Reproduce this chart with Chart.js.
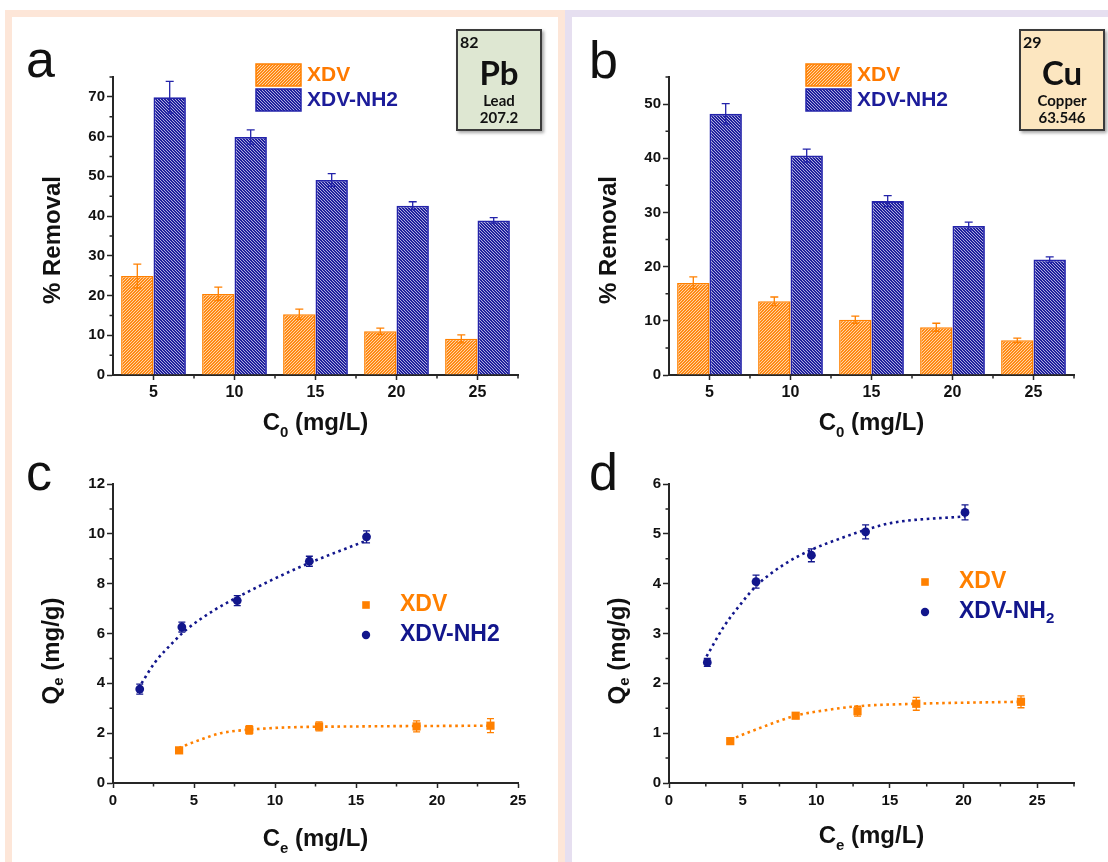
<!DOCTYPE html>
<html>
<head>
<meta charset="utf-8">
<script src="https://cdn.jsdelivr.net/npm/chart.js@4.4.1/dist/chart.umd.min.js"></script>
<style>
  html, body { margin: 0; padding: 0; background: #fff; }
  #page { position: relative; width: 1108px; height: 862px; overflow: hidden; background: #fff; }
  .frame { position: absolute; top: 10px; height: 900px; box-sizing: border-box; border: 7px solid; background: #fff; }
  #frameL { left: 5px; width: 560px; border-color: #fde6d8; }
  #frameR { left: 565px; width: 600px; border-color: #e6dff0; }
  canvas { position: absolute; }
  .elem { position: absolute; width: 86px; height: 102px; box-sizing: border-box; border: 2px solid #3b3b3b;
          box-shadow: 2px 2px 3px rgba(0,0,0,0.35); font-family: Lato, "Open Sans", sans-serif; font-weight: bold; color: #111; }
  .elem span { position: absolute; white-space: nowrap; }
  .elem .num { left: 2px; top: 3px; font-size: 16px; line-height: 16px; }
  .elem .sym { left: 0; right: 0; text-align: center; top: 25px; font-size: 33px; line-height: 33px; }
  .elem .name { left: 0; right: 0; text-align: center; top: 62px; font-size: 15px; line-height: 15px; }
  .elem .mass { left: 0; right: 0; text-align: center; top: 79px; font-size: 15px; line-height: 15px; }
</style>
</head>
<body>
<div id="page">
  <div class="frame" id="frameL"></div>
  <div class="frame" id="frameR"></div>
  <canvas id="chartA" width="546" height="423" style="left:12px;top:17px"></canvas>
  <canvas id="chartB" width="536" height="423" style="left:572px;top:17px"></canvas>
  <canvas id="chartC" width="546" height="422" style="left:12px;top:440px"></canvas>
  <canvas id="chartD" width="536" height="422" style="left:572px;top:440px"></canvas>
  <div class="elem" style="left:456px;top:29px;background:#dee7d2">
    <span class="num">82</span><span class="sym">Pb</span><span class="name">Lead</span><span class="mass">207.2</span>
  </div>
  <div class="elem" style="left:1019px;top:29px;background:#fce6c0">
    <span class="num">29</span><span class="sym">Cu</span><span class="name">Copper</span><span class="mass">63.546</span>
  </div>
</div>
<script>
// series names and axis labels
const seriesNames = ['XDV', 'XDV-NH2'];
const seriesNamesSub = ['XDV', 'XDV-NH_2'];
const c0Labels = ['5', '10', '15', '20', '25'];

// (a) Pb removal (%)
const pbXdv = [24.9, 20.4, 15.3, 11.0, 9.1];
const pbXdvErr = [3.0, 1.7, 1.3, 0.8, 1.0];
const pbNh2 = [69.9, 59.9, 49.1, 42.6, 38.9];
const pbNh2Err = [4.0, 1.8, 1.6, 1.0, 0.7];

// (b) Cu removal (%)
const cuXdv = [17.0, 13.6, 10.2, 8.8, 6.4];
const cuXdvErr = [1.1, 0.8, 0.65, 0.75, 0.4];
const cuNh2 = [48.2, 40.5, 32.1, 27.5, 21.3];
const cuNh2Err = [1.9, 1.2, 1.0, 0.7, 0.5];

// (c) Pb isotherm, Ce (mg/L) vs Qe (mg/g)
const pbCeXdv = [4.08, 8.41, 12.72, 18.74, 23.3];
const pbQeXdv = [1.31, 2.13, 2.27, 2.27, 2.3];
const pbQeXdvErr = [0.08, 0.17, 0.18, 0.22, 0.28];
const pbCeNh2 = [1.65, 4.25, 7.67, 12.12, 15.65];
const pbQeNh2 = [3.77, 6.26, 7.32, 8.9, 9.88];
const pbQeNh2Err = [0.2, 0.2, 0.2, 0.2, 0.24];
const pbFitXdvX = [4.08, 5.4, 6.72, 8.41, 10.69, 15.1, 23.3];
const pbFitXdvY = [1.41, 1.74, 2.01, 2.14, 2.23, 2.27, 2.3];
const pbFitNh2X = [1.76, 2.6, 3.64, 4.52, 6.28, 7.67, 9.81, 12.12, 15.54];
const pbFitNh2Y = [4.0, 4.85, 5.6, 6.15, 6.95, 7.45, 8.15, 8.83, 9.7];

// (d) Cu isotherm
const cuCeXdv = [4.16, 8.6, 12.8, 16.79, 23.9];
const cuQeXdv = [0.84, 1.35, 1.44, 1.59, 1.63];
const cuQeXdvErr = [0.04, 0.05, 0.1, 0.13, 0.12];
const cuCeNh2 = [2.6, 5.91, 9.67, 13.35, 20.1];
const cuQeNh2 = [2.42, 4.04, 4.57, 5.04, 5.43];
const cuQeNh2Err = [0.08, 0.13, 0.13, 0.14, 0.15];
const cuFitXdvX = [4.16, 5.87, 8.6, 10.62, 12.8, 16.79, 23.9];
const cuFitXdvY = [0.87, 1.07, 1.35, 1.46, 1.54, 1.59, 1.63];
const cuFitNh2X = [2.55, 3.73, 4.92, 5.91, 7.78, 9.67, 11.57, 13.35, 15.13, 20.1];
const cuFitNh2Y = [2.54, 3.14, 3.61, 3.95, 4.38, 4.68, 4.9, 5.08, 5.22, 5.35];

const FONT = '"Liberation Sans", Arial, Helvetica, sans-serif';
const ORANGE = '#ff8000';
const NAVY = '#12168c';
const BAR_ORANGE = '#ff8a14';
const BAR_BLUE = '#1f1f9e';
const BAR_BLUE_LINE = '#2323aa';
const AXIS = '#262626';

Chart.defaults.font.family = FONT;
Chart.defaults.font.weight = 'bold';
Chart.defaults.color = '#111';

function hatch(color, back) {
  const s = 3;
  const c = document.createElement('canvas');
  c.width = s; c.height = s;
  const g = c.getContext('2d');
  g.fillStyle = color;
  g.fillRect(0, 0, s, s);
  g.strokeStyle = 'rgba(255,255,255,0.8)';
  g.lineWidth = 0.8;
  g.beginPath();
  if (!back) {
    g.moveTo(-1, s + 1); g.lineTo(s + 1, -1);
    g.moveTo(-1, 1); g.lineTo(1, -1);
    g.moveTo(s - 1, s + 1); g.lineTo(s + 1, s - 1);
  } else {
    g.moveTo(-1, -1); g.lineTo(s + 1, s + 1);
    g.moveTo(s - 1, -1); g.lineTo(s + 1, 1);
    g.moveTo(-1, s - 1); g.lineTo(1, s + 1);
  }
  g.stroke();
  return g.createPattern(c, 'repeat');
}

// text with "_x" subscripts
function drawRich(ctx, text, x, y, size, color, align) {
  const bits = text.split('_');
  const parts = [{ t: bits[0], sub: false }];
  for (let i = 1; i < bits.length; i++) {
    parts.push({ t: bits[i][0], sub: true });
    if (bits[i].length > 1) parts.push({ t: bits[i].slice(1), sub: false });
  }
  const subSize = Math.round(size * 0.64);
  let w = 0;
  parts.forEach(p => {
    ctx.font = 'bold ' + (p.sub ? subSize : size) + 'px ' + FONT;
    p.w = ctx.measureText(p.t).width;
    w += p.w;
  });
  let cx = align === 'center' ? x - w / 2 : x;
  ctx.fillStyle = color;
  ctx.textAlign = 'left';
  parts.forEach(p => {
    ctx.font = 'bold ' + (p.sub ? subSize : size) + 'px ' + FONT;
    ctx.fillText(p.t, cx, p.sub ? y + size * 0.3 : y);
    cx += p.w;
  });
}

const minorTicks = {
  id: 'minorTicks',
  afterDraw(chart, args, o) {
    const ctx = chart.ctx, xs = chart.scales.x, ys = chart.scales.y;
    ctx.save();
    ctx.strokeStyle = AXIS;
    ctx.lineWidth = 1.5;
    ctx.beginPath();
    if (o.x === 'category') {
      for (let i = 1; i <= xs.ticks.length; i++) {
        const px = xs.getPixelForValue(i - 0.5);
        ctx.moveTo(px, xs.top); ctx.lineTo(px, xs.top + 3.5);
      }
    } else {
      for (let v = xs.min + o.x / 2; v <= xs.max + 1e-9; v += o.x) {
        const px = xs.getPixelForValue(v);
        ctx.moveTo(px, xs.top); ctx.lineTo(px, xs.top + 3.5);
      }
    }
    for (let v = ys.min + o.y / 2; v <= ys.max + 1e-9; v += o.y) {
      const py = ys.getPixelForValue(v);
      ctx.moveTo(ys.right, py); ctx.lineTo(ys.right - 3.5, py);
    }
    ctx.stroke();
    ctx.restore();
  }
};

const errorBars = {
  id: 'errorBars',
  afterDatasetsDraw(chart, args, o) {
    const ctx = chart.ctx, ys = chart.scales.y;
    chart.data.datasets.forEach((ds, di) => {
      if (!ds.errors) return;
      const meta = chart.getDatasetMeta(di);
      ctx.save();
      ctx.strokeStyle = ds.errorColor;
      ctx.lineWidth = 1.3;
      meta.data.forEach((el, i) => {
        const d = ds.data[i];
        const val = typeof d === 'object' ? d.y : d;
        const top = ys.getPixelForValue(val + ds.errors[i]);
        const bot = ys.getPixelForValue(val - ds.errors[i]);
        const c = o.cap;
        ctx.beginPath();
        ctx.moveTo(el.x, top); ctx.lineTo(el.x, bot);
        ctx.moveTo(el.x - c, top); ctx.lineTo(el.x + c, top);
        ctx.moveTo(el.x - c, bot); ctx.lineTo(el.x + c, bot);
        ctx.stroke();
      });
      ctx.restore();
    });
  }
};

// panel letter, axis titles and in-plot legend
const deco = {
  id: 'deco',
  afterDraw(chart, args, o) {
    const ctx = chart.ctx, area = chart.chartArea;
    ctx.save();
    ctx.fillStyle = '#111';
    ctx.font = 'normal 52px ' + FONT;
    ctx.textBaseline = 'alphabetic';
    ctx.textAlign = 'left';
    ctx.fillText(o.tag.text, o.tag.x, o.tag.y);

    drawRich(ctx, o.xTitle.text, (area.left + area.right) / 2, o.xTitle.y, 24, '#111', 'center');

    ctx.save();
    ctx.translate(o.yTitle.x, o.yTitle.y);
    ctx.rotate(-Math.PI / 2);
    ctx.textBaseline = 'middle';
    drawRich(ctx, o.yTitle.text, 0, 0, 24, '#111', 'center');
    ctx.restore();

    const lg = o.legend;
    ctx.textBaseline = 'middle';
    lg.items.forEach((it, k) => {
      const ds = chart.data.datasets[it.dataset];
      const y = lg.y + k * lg.gap;
      if (lg.kind === 'swatch') {
        ctx.fillStyle = ds.backgroundColor;
        ctx.fillRect(lg.x, y - lg.h / 2, lg.w, lg.h);
        ctx.strokeStyle = ds.borderColor;
        ctx.lineWidth = 1.5;
        ctx.strokeRect(lg.x, y - lg.h / 2, lg.w, lg.h);
      } else {
        ctx.fillStyle = ds.pointBackgroundColor;
        ctx.beginPath();
        if (ds.pointStyle === 'rect') {
          ctx.rect(lg.x - 3.8, y - 3.8, 7.6, 7.6);
        } else {
          ctx.arc(lg.x, y, 4.2, 0, Math.PI * 2);
        }
        ctx.fill();
      }
      drawRich(ctx, it.text, lg.textX, y, lg.size, it.color, 'left');
    });
    ctx.restore();
  }
};

function axisStyle(size) {
  return {
    grid: { display: true, drawOnChartArea: false, tickLength: 6, tickColor: AXIS, tickWidth: 1.5 },
    border: { display: true, color: AXIS, width: 2 },
    ticks: { font: { size: size, weight: 'bold' }, color: '#111', padding: 2 }
  };
}

function makeBars(id, xdv, xdvErr, nh2, nh2Err, yMax, look) {
  const xAxis = axisStyle(16);
  xAxis.type = 'category';
  xAxis.offset = true;
  xAxis.grid.offset = false;
  xAxis.grid.tickLength = 5;
  xAxis.ticks.padding = 3;
  xAxis.ticks.maxRotation = 0;
  xAxis.afterFit = s => { s.height = 65; };
  const yAxis = axisStyle(15);
  yAxis.min = 0;
  yAxis.max = yMax;
  yAxis.ticks.stepSize = 10;
  yAxis.ticks.includeBounds = false;
  yAxis.afterFit = s => { s.width = look.yWidth; };

  return new Chart(document.getElementById(id), {
    type: 'bar',
    data: {
      labels: c0Labels,
      datasets: [{
        label: seriesNames[0], data: xdv, errors: xdvErr, errorColor: ORANGE,
        backgroundColor: hatch(BAR_ORANGE, false), borderColor: ORANGE, borderWidth: 1.5,
        categoryPercentage: 0.8, barPercentage: 1
      }, {
        label: seriesNames[1], data: nh2, errors: nh2Err, errorColor: BAR_BLUE_LINE,
        backgroundColor: hatch(BAR_BLUE, true), borderColor: BAR_BLUE_LINE, borderWidth: 1.8,
        categoryPercentage: 0.8, barPercentage: 1
      }]
    },
    options: {
      responsive: false,
      animation: false,
      layout: { padding: { top: 60, right: look.padRight, left: 0, bottom: 0 } },
      scales: { x: xAxis, y: yAxis },
      plugins: {
        legend: { display: false },
        tooltip: { enabled: false },
        minorTicks: { x: 'category', y: 10 },
        errorBars: { cap: 4 },
        deco: {
          tag: look.tag,
          xTitle: { text: 'C_0 (mg/L)', y: 413 },
          yTitle: { text: '% Removal', x: look.yTitleX, y: 223 },
          legend: {
            kind: 'swatch', x: look.legendX, y: 58, gap: 25, w: 45, h: 22,
            textX: look.legendX + 51, size: 21,
            items: [{ dataset: 0, text: seriesNames[0], color: '#ff7a00' },
                    { dataset: 1, text: seriesNames[1], color: '#1c1c9a' }]
          }
        }
      }
    },
    plugins: [minorTicks, errorBars, deco]
  });
}

function xy(xs, ys) {
  return xs.map((x, i) => ({ x: x, y: ys[i] }));
}

function makeIsotherm(id, sets, xMax, yMax, yStep, look) {
  const xAxis = axisStyle(15);
  xAxis.type = 'linear';
  xAxis.min = 0;
  xAxis.max = xMax;
  xAxis.grid.tickLength = 5;
  xAxis.ticks.padding = 4;
  xAxis.ticks.stepSize = 5;
  xAxis.ticks.includeBounds = false;
  xAxis.afterFit = s => { s.height = 79; };
  const yAxis = axisStyle(15);
  yAxis.min = 0;
  yAxis.max = yMax;
  yAxis.ticks.stepSize = yStep;
  yAxis.afterFit = s => { s.width = look.yWidth; };

  const fitLine = (pts, color) => ({
    data: pts, showLine: true, pointRadius: 0, borderColor: color, borderWidth: 2.6,
    borderDash: [2.6, 3.6], cubicInterpolationMode: 'monotone', fill: false
  });

  return new Chart(document.getElementById(id), {
    type: 'scatter',
    data: {
      datasets: [{
        label: seriesNames[0], data: xy(sets.xdvX, sets.xdvY), errors: sets.xdvErr, errorColor: ORANGE,
        pointStyle: 'rect', pointRadius: 5.8, pointBackgroundColor: ORANGE, pointBorderWidth: 0, showLine: false
      }, {
        label: seriesNames[1], data: xy(sets.nh2X, sets.nh2Y), errors: sets.nh2Err, errorColor: NAVY,
        pointStyle: 'circle', pointRadius: 4.4, pointBackgroundColor: NAVY, pointBorderWidth: 0, showLine: false
      },
      fitLine(xy(sets.fitXdvX, sets.fitXdvY), ORANGE),
      fitLine(xy(sets.fitNh2X, sets.fitNh2Y), NAVY)]
    },
    options: {
      responsive: false,
      animation: false,
      layout: { padding: { top: 44, right: look.padRight, left: 0, bottom: 0 } },
      scales: { x: xAxis, y: yAxis },
      plugins: {
        legend: { display: false },
        tooltip: { enabled: false },
        minorTicks: { x: 5, y: yStep },
        errorBars: { cap: 3.5 },
        deco: {
          tag: look.tag,
          xTitle: { text: 'C_e (mg/L)', y: look.xTitleY },
          yTitle: { text: 'Q_e (mg/g)', x: look.yTitleX, y: 211 },
          legend: {
            kind: 'marker', x: look.legendX, y: look.legendY, gap: 30,
            textX: look.legendX + 34, size: 23,
            items: [{ dataset: 0, text: look.names[0], color: ORANGE },
                    { dataset: 1, text: look.names[1], color: NAVY }]
          }
        }
      }
    },
    plugins: [minorTicks, errorBars, deco]
  });
}

makeBars('chartA', pbXdv, pbXdvErr, pbNh2, pbNh2Err, 75, {
  yWidth: 101, padRight: 40, yTitleX: 41.6, legendX: 244,
  tag: { text: 'a', x: 14, y: 60 }
});
makeBars('chartB', cuXdv, cuXdvErr, cuNh2, cuNh2Err, 55, {
  yWidth: 97, padRight: 34, yTitleX: 37, legendX: 234,
  tag: { text: 'b', x: 17, y: 61 }
});
makeIsotherm('chartC', {
  xdvX: pbCeXdv, xdvY: pbQeXdv, xdvErr: pbQeXdvErr,
  nh2X: pbCeNh2, nh2Y: pbQeNh2, nh2Err: pbQeNh2Err,
  fitXdvX: pbFitXdvX, fitXdvY: pbFitXdvY, fitNh2X: pbFitNh2X, fitNh2Y: pbFitNh2Y
}, 25, 12, 2, {
  yWidth: 101, padRight: 40, yTitleX: 40, xTitleY: 406, legendX: 354, legendY: 165,
  names: seriesNames, tag: { text: 'c', x: 14, y: 50 }
});
makeIsotherm('chartD', {
  xdvX: cuCeXdv, xdvY: cuQeXdv, xdvErr: cuQeXdvErr,
  nh2X: cuCeNh2, nh2Y: cuQeNh2, nh2Err: cuQeNh2Err,
  fitXdvX: cuFitXdvX, fitXdvY: cuFitXdvY, fitNh2X: cuFitNh2X, fitNh2Y: cuFitNh2Y
}, 27.5, 6, 1, {
  yWidth: 97, padRight: 34, yTitleX: 46, xTitleY: 403, legendX: 353, legendY: 142,
  names: seriesNamesSub, tag: { text: 'd', x: 17, y: 50 }
});
</script>
</body>
</html>
